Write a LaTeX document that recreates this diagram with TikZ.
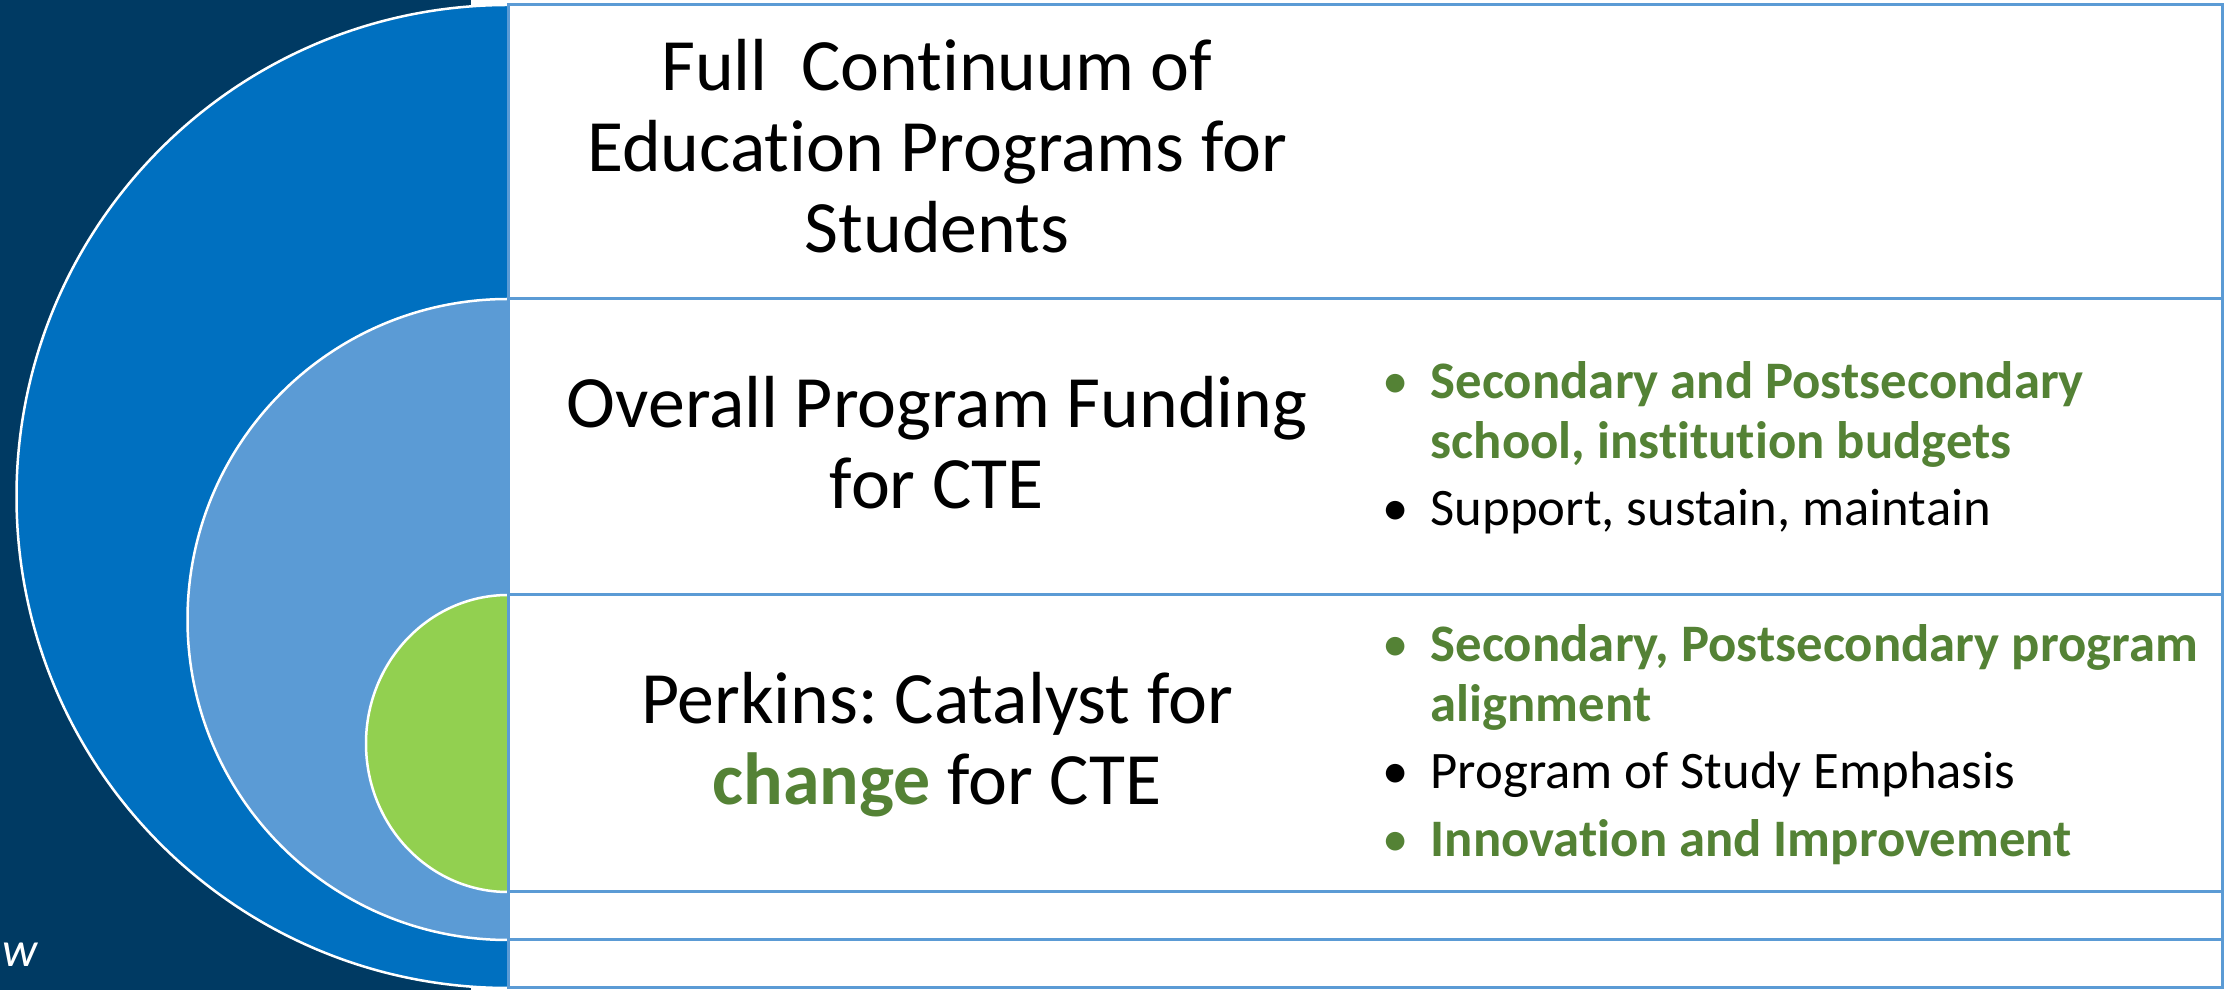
\documentclass[tikz,border=0pt]{standalone}
\usepackage{fontspec}
\setmainfont{Carlito}[Ligatures=NoCommon]
\frenchspacing

\definecolor{navyband}{HTML}{003A63}
\definecolor{outerblue}{HTML}{0070C0}
\definecolor{middleblue}{HTML}{5B9BD5}
\definecolor{innergreen}{HTML}{92D050}
\definecolor{textgreen}{HTML}{548235}
\definecolor{frameblue}{HTML}{5B9BD5}

% bullet glyph centred on the left edge of a fixed-width column
\newcommand{\bulletmark}{\makebox[0.35cm][l]{\makebox[0pt]{\textbullet}}}
\newcommand{\gitem}[1]{\textcolor{textgreen}{\bulletmark}&\textcolor{textgreen}{\bfseries #1}}
\newcommand{\gcont}[1]{&\textcolor{textgreen}{\bfseries #1}}
\newcommand{\kitem}[1]{\bulletmark&#1}

\tikzset{
  headtext/.style={anchor=base, inner sep=0pt, font=\fontsize{21}{23}\selectfont},
  listtext/.style={anchor=base west, inner sep=0pt, font=\fontsize{15}{16.8}\selectfont},
  band/.style={draw=frameblue, line width=0.03cm, fill=white},
  ring/.style={draw=white, line width=0.025cm},
}

\begin{document}
\begin{tikzpicture}
\useasboundingbox (0,0) rectangle (22.34,9.90);

% dark band on the left
\fill[navyband] (0,0) rectangle (4.71,9.90);

% nested half discs
\fill[outerblue] (5.08,9.85) arc[start angle=90,end angle=270,radius=4.915] -- cycle;
\draw[ring] (5.08,9.85) arc[start angle=90,end angle=270,radius=4.915];
\fill[middleblue] (5.08,6.91) arc[start angle=90,end angle=270,radius=3.205] -- cycle;
\draw[ring] (5.08,6.91) arc[start angle=90,end angle=270,radius=3.205];
\fill[innergreen] (5.08,3.95) arc[start angle=90,end angle=270,x radius=1.42,y radius=1.485] -- cycle;
\draw[ring] (5.08,3.95) arc[start angle=90,end angle=270,x radius=1.42,y radius=1.485];

% stacked bands on the right
\draw[band] (5.08,6.91) rectangle (22.22,9.85);
\draw[band] (5.08,3.95) rectangle (22.22,6.91);
\draw[band] (5.08,0.98) rectangle (22.22,3.95);
\draw[band] (5.08,0.50) rectangle (22.22,0.98);
\draw[band] (5.08,0.02) rectangle (22.22,0.50);

% headings
\node[headtext] (full) at (9.37,8.99)
  {\begin{tabular}[t]{@{}c@{}}Full~~Continuum of\\Education Programs for\\Students\end{tabular}};
\node[headtext] (funding) at (9.37,5.62)
  {\begin{tabular}[t]{@{}c@{}}Overall Program Funding\\for CTE\end{tabular}};
\node[headtext] (perkins) at (9.37,2.66)
  {\begin{tabular}[t]{@{}c@{}}Perkins: Catalyst for\\\textcolor{textgreen}{\bfseries change} for CTE\end{tabular}};

% bullet lists
\node[listtext] (fundlist) at (13.95,5.91)
  {\begin{tabular}[t]{@{}l@{}l@{}}
    \gitem{Secondary and Postsecondary}\\
    \gcont{school, institution budgets}\\[2.5pt]
    \kitem{Support, sustain, maintain}
  \end{tabular}};
\node[listtext] (perkinslist) at (13.95,3.28)
  {\begin{tabular}[t]{@{}l@{}l@{}}
    \gitem{Secondary, Postsecondary program}\\
    \gcont{alignment}\\[2.5pt]
    \kitem{Program of Study Emphasis}\\[2.5pt]
    \gitem{Innovation and Improvement}
  \end{tabular}};

% small caption at the lower left
\node[text=white, font=\fontsize{14}{17}\selectfont\itshape, anchor=base west, inner sep=0pt] (edgeword) at (0.02,0.23) {w};
\end{tikzpicture}
\end{document}
